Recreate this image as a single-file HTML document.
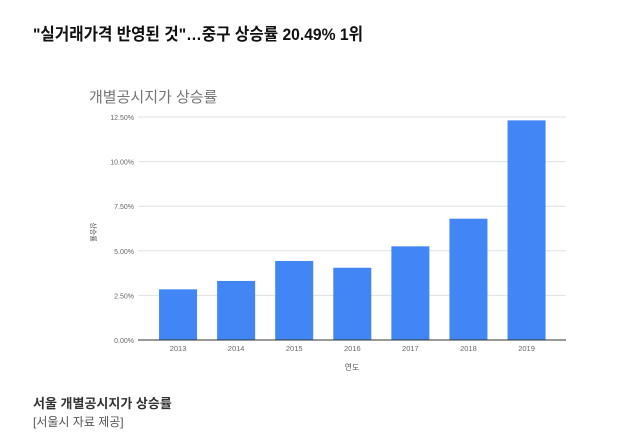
<!DOCTYPE html>
<html><head><meta charset="utf-8">
<style>
html,body{margin:0;padding:0;background:#fff;width:627px;height:435px;overflow:hidden}
svg{display:block}
text{font-family:"Liberation Sans","Noto Sans CJK KR",sans-serif}
</style></head>
<body>
<svg id="chart" width="627" height="435" viewBox="0 0 627 435">
  <text x="33" y="40" font-size="17" font-weight="bold" fill="#111" textLength="330" lengthAdjust="spacingAndGlyphs">"실거래가격 반영된 것"…중구 상승률 20.49% 1위</text>
  <text x="89" y="102" font-size="15" fill="#757575">개별공시지가 상승률</text>
  <g id="grid"></g>
  <g id="yticks"></g>
  <g id="bars"></g>
  <g id="xticks"></g>
  <line x1="138" y1="340" x2="566" y2="340" stroke="#333" stroke-width="1"/>
  <text x="352" y="370" font-size="8" fill="#555" text-anchor="middle">연도</text>
  <text x="0" y="0" font-size="7" fill="#555" text-anchor="middle" transform="translate(91,232) rotate(90)">상승률</text>
  <text x="33" y="408" font-size="13" font-weight="bold" fill="#333">서울 개별공시지가 상승률</text>
  <text x="33" y="426" font-size="12" fill="#555">[서울시 자료 제공]</text>
</svg>
<script>
const categories = ["2013","2014","2015","2016","2017","2018","2019"];
const values = [2.84, 3.31, 4.43, 4.05, 5.25, 6.80, 12.31];
const yTicks = [0, 2.5, 5, 7.5, 10, 12.5];
const yTickLabels = ["0.00%","2.50%","5.00%","7.50%","10.00%","12.50%"];

const NS = "http://www.w3.org/2000/svg";
const plotL = 138, plotR = 566, y0 = 340, yTop = 117, yMax = 12.5;
const bandL = 149, bandR = 555.6;
function yScale(v){ return y0 - (v / yMax) * (y0 - yTop); }
const step = (bandR - bandL) / categories.length;
function xCenter(i){ return bandL + step * (i + 0.5); }
const barW = 38;

function mk(tag, attrs){ const e = document.createElementNS(NS, tag); for (const k in attrs) e.setAttribute(k, attrs[k]); return e; }

const grid = document.getElementById('grid');
const yt = document.getElementById('yticks');
yTicks.forEach((t, i) => {
  const y = yScale(t);
  if (t !== 0) {
    const l = mk('line', {x1: plotL, x2: plotR, y1: y, y2: y, stroke: '#e0e0e0', 'stroke-width': 1});
    
    
    grid.appendChild(l);
  }
  const tx = mk('text', {x: 134, y: y + 3, 'font-size': 7, fill: '#666', 'text-anchor': 'end'});
  tx.textContent = yTickLabels[i];
  
  
  yt.appendChild(tx);
});

const bars = document.getElementById('bars');
const xt = document.getElementById('xticks');
categories.forEach((c, i) => {
  const cx = xCenter(i);
  const y = yScale(values[i]);
  const r = mk('rect', {x: cx - barW / 2, y: y, width: barW, height: y0 - y, fill: '#4285f4'});
  
  
  bars.appendChild(r);
  const tx = mk('text', {x: cx, y: 351, 'font-size': 7.5, fill: '#666', 'text-anchor': 'middle'});
  tx.textContent = c;
  
  
  xt.appendChild(tx);
});
</script>
</body></html>
